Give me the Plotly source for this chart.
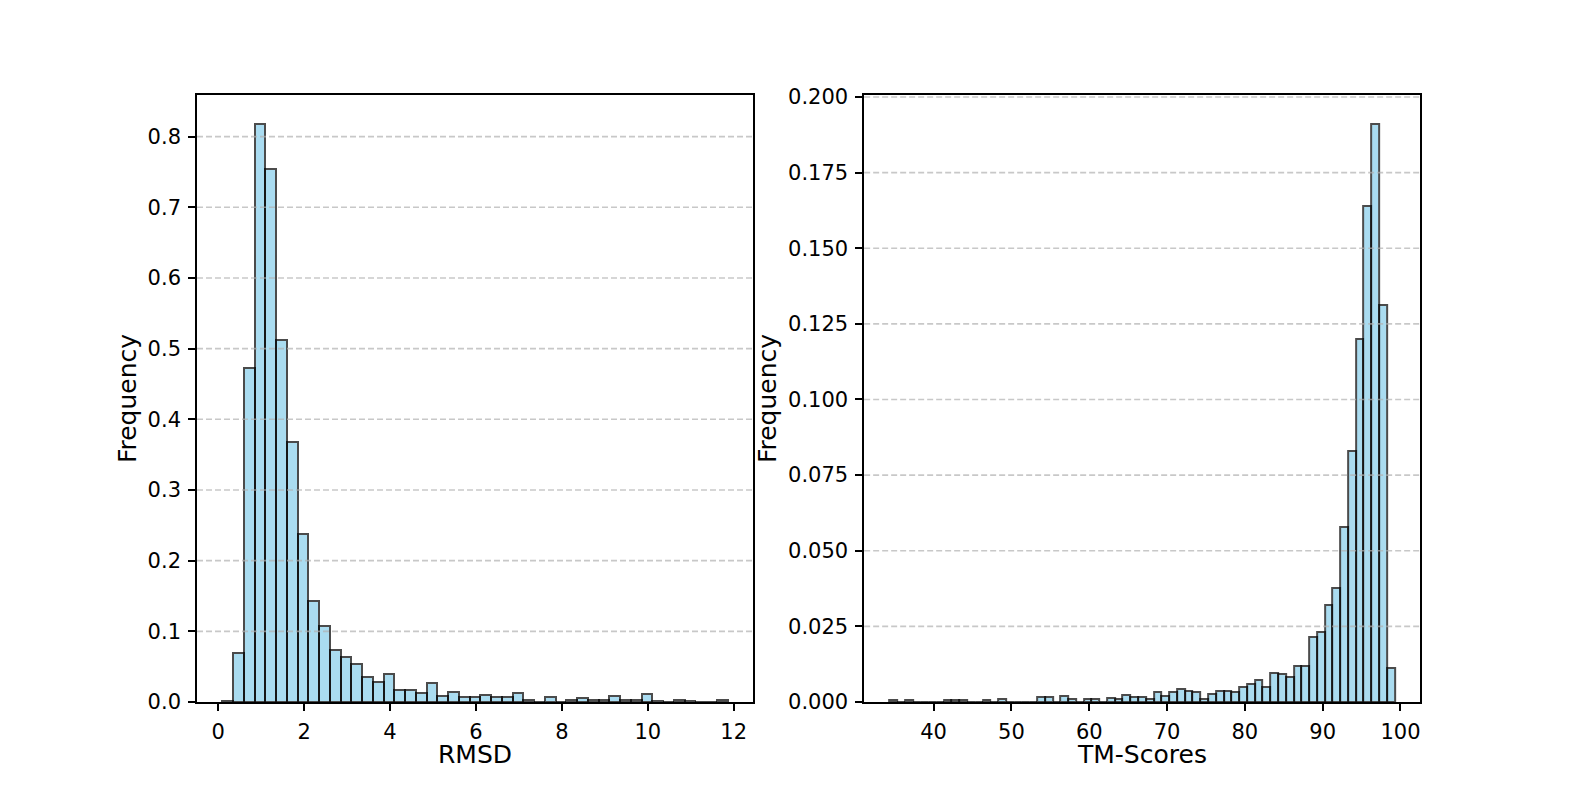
import numpy as np
import plotly.graph_objects as go

# RMSD histogram (density), 47 bins
rmsd_start = 0.096
rmsd_end = 11.858
rmsd_freq = [0.002, 0.069, 0.473, 0.818, 0.754, 0.512, 0.368, 0.238, 0.143, 0.107,
             0.073, 0.063, 0.054, 0.035, 0.028, 0.040, 0.0165, 0.0165, 0.0123, 0.027,
             0.009, 0.0146, 0.007, 0.007, 0.0104, 0.007, 0.007, 0.0127, 0.0033, 0.0,
             0.007, 0.0, 0.0033, 0.0057, 0.0033, 0.0033, 0.009, 0.0033, 0.0033, 0.0108,
             0.0014, 0.0, 0.0033, 0.0014, 0.0, 0.0, 0.0033]

# TM-Score histogram (density), 65 bins
tm_start = 34.32
tm_end = 99.26
tm_freq = [0.0005, 0.0, 0.0005, 0.0, 0.0, 0.0, 0.0, 0.0005, 0.0005, 0.0005,
           0.0, 0.0, 0.0005, 0.0, 0.001, 0.0, 0.0, 0.0, 0.0, 0.0015,
           0.0015, 0.0, 0.0019, 0.001, 0.0, 0.001, 0.001, 0.0, 0.0014, 0.001,
           0.0024, 0.0015, 0.0015, 0.001, 0.0033, 0.0019, 0.0032, 0.0043, 0.0038, 0.0034,
           0.001, 0.0028, 0.0038, 0.0038, 0.0033, 0.0051, 0.006, 0.0074, 0.0051, 0.0097,
           0.0092, 0.0083, 0.012, 0.012, 0.0216, 0.0231, 0.0322, 0.0377, 0.058, 0.0829,
           0.120, 0.1639, 0.1911, 0.1313, 0.0111]

rmsd_xticks = [0, 2, 4, 6, 8, 10, 12]
rmsd_yticks = [0.0, 0.1, 0.2, 0.3, 0.4, 0.5, 0.6, 0.7, 0.8]
tm_xticks = [40, 50, 60, 70, 80, 90, 100]
tm_yticks = [0.0, 0.025, 0.05, 0.075, 0.1, 0.125, 0.15, 0.175, 0.2]


def bins(start, end, n):
    w = (end - start) / n
    return start + w * (np.arange(n) + 0.5), w


def pad(start, end):
    s = end - start
    return [start - 0.05 * s, end + 0.05 * s]


rx, rw = bins(rmsd_start, rmsd_end, len(rmsd_freq))
tx, tw = bins(tm_start, tm_end, len(tm_freq))

bar_style = dict(marker=dict(color="skyblue", opacity=0.7,
                             line=dict(color="black", width=2)),
                 showlegend=False, hoverinfo="x+y")

fig = go.Figure()
fig.add_trace(go.Bar(x=rx, y=rmsd_freq, width=rw, xaxis="x", yaxis="y", **bar_style))
fig.add_trace(go.Bar(x=tx, y=tm_freq, width=tw, xaxis="x2", yaxis="y2", **bar_style))

font = dict(family="DejaVu Sans", size=21, color="black")
axis = dict(showline=True, linecolor="black", linewidth=1.6, mirror=True,
            ticks="outside", ticklen=7, tickwidth=1.6, tickcolor="black",
            showgrid=False, zeroline=False, automargin=False,
            tickfont=font, ticklabelstandoff=3)

# page body has an 8px margin, so the figure is 16px smaller than the window
fig.update_layout(
    width=1562, height=773,
    margin=dict(l=189, r=150, t=87, b=79),
    paper_bgcolor="white", plot_bgcolor="white",
    bargap=0,
    font=font,
    xaxis=dict(axis, domain=[0, 0.4545], anchor="y", range=pad(rmsd_start, rmsd_end),
               tickvals=rmsd_xticks),
    yaxis=dict(axis, anchor="x", range=[0, max(rmsd_freq) * 1.05],
               tickvals=rmsd_yticks, tickformat=".1f",
               title=dict(text="Frequency", font=dict(size=25), standoff=4)),
    xaxis2=dict(axis, domain=[0.5455, 1], anchor="y2", range=pad(tm_start, tm_end),
                tickvals=tm_xticks),
    yaxis2=dict(axis, anchor="x2", range=[0, max(tm_freq) * 1.05],
                tickvals=tm_yticks, tickformat=".3f",
                title=dict(text="Frequency", font=dict(size=25), standoff=4)),
)

# x axis labels, placed a little tighter than plotly's axis titles allow
for xr, yr, label in [("x domain", "y domain", "RMSD"),
                      ("x2 domain", "y2 domain", "TM-Scores")]:
    fig.add_annotation(text=label, xref=xr, yref=yr, x=0.5, y=0,
                       xanchor="center", yanchor="middle", yshift=-52,
                       borderpad=0, showarrow=False, font=dict(size=25))

# dashed y grid drawn over the bars, as in the original
grid = dict(color="rgba(176,176,176,0.7)", width=1.6, dash="6px,3px")
for v in rmsd_yticks[1:]:
    fig.add_shape(type="line", xref="x domain", yref="y", x0=0, x1=1, y0=v, y1=v,
                  line=grid, layer="above")
for v in tm_yticks[1:]:
    fig.add_shape(type="line", xref="x2 domain", yref="y2", x0=0, x1=1, y0=v, y1=v,
                  line=grid, layer="above")

fig.write_html("out.html")
